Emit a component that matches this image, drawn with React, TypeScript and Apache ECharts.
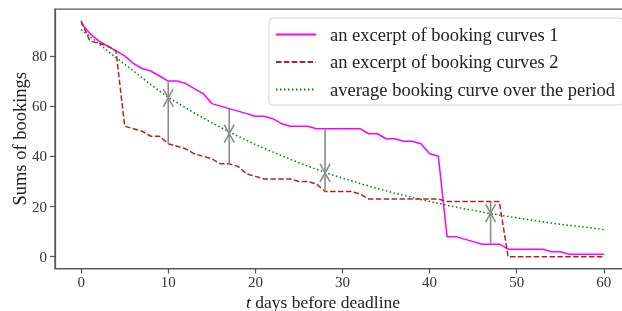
import React, { useEffect, useRef } from "react";
import * as echarts from "echarts";

// booking curve 1 (t = 0..60)
const curve1 = [
  93, 89, 86, 84, 82, 80, 77, 75, 74, 72,
  70, 70, 69, 67, 65, 61, 60, 59, 58, 57,
  56, 56, 55, 53, 52, 52, 52, 51, 51, 51,
  51, 51, 51, 49, 49, 47, 47, 46, 46, 45,
  41, 40, 8, 8, 7, 6, 5, 5, 5, 3,
  3, 3, 3, 3, 2, 2, 1, 1, 1, 1,
  1,
];
// booking curve 2 (t = 0..60)
const curve2 = [
  94, 86, 85, 84, 82, 52, 51, 50, 48, 48,
  45, 44, 43, 41, 40, 39, 37, 37, 36, 33,
  32, 31, 31, 31, 31, 30, 30, 29, 26, 26,
  26, 26, 25, 23, 23, 23, 23, 23, 23, 23,
  23, 23, 22, 22, 22, 22, 22, 22, 22, 0,
  0, 0, 0, 0, 0, 0, 0, 0, 0, 0,
  0,
];
const avgDays = [0, 2, 4, 6, 8, 10, 12, 14, 16, 18, 20, 22, 24, 26, 28, 30, 32, 34, 36, 38, 40, 42, 44, 46, 48, 50, 52, 54, 56, 58, 60];
const avgValues = [90.5, 85, 79.3, 74, 68.6, 63.5, 59.3, 55.3, 51.5, 48, 44.7, 41.7, 38.8, 36.1, 33.6, 31.3, 29.2, 27.2, 25.3, 23.6, 22, 20.5, 19.1, 17.8, 16.6, 15.5, 14.4, 13.4, 12.5, 11.7, 10.8];

const arrowDays = [10, 10, 17, 17, 28, 28, 47, 47];
const arrowFrom = [70, 45, 59, 37, 51, 26, 22, 5];
const arrowTo = [63.3, 63.3, 49, 49, 33.4, 33.4, 17.4, 17.4];

const xTicks = [0, 10, 20, 30, 40, 50, 60];
const yTicks = [0, 20, 40, 60, 80];
const seriesNames = [
  "an excerpt of booking curves 1",
  "an excerpt of booking curves 2",
  "average booking curve over the period",
];

export default function App() {
  const ref = useRef<HTMLDivElement>(null);
  useEffect(() => {
    document.body.style.margin = "0";
    const chart = echarts.init(ref.current!, null, { renderer: "svg" });
    const font = "'Liberation Serif', 'Times New Roman', serif";
    const spine = "#555";
    const arrowColor = "#8c8c8c";
    chart.setOption({
      animation: false,
      textStyle: { fontFamily: font },
      grid: {
        left: 55,
        top: 9,
        width: 575,
        height: 259.5,
        show: true,
        borderColor: spine,
        borderWidth: 1.25,
        backgroundColor: "transparent",
        containLabel: false,
        outerBoundsMode: "none",
      },
      xAxis: {
        type: "value",
        min: -3,
        max: 63,
        axisLine: { show: true, onZero: false, lineStyle: { color: spine, width: 1.25 } },
        axisTick: { show: true, customValues: xTicks, length: 5, lineStyle: { color: spine, width: 1.25 } },
        axisLabel: { customValues: xTicks, margin: 6, fontSize: 15, color: "#333", fontFamily: font },
        splitLine: { show: false },
        name: "{i|t} days before deadline",
        nameLocation: "middle",
        nameGap: 25,
        nameMoveOverlap: false,
        nameTextStyle: {
          fontSize: 17.5,
          lineHeight: 17,
          color: "#222",
          fontFamily: font,
          padding: [0, 39, 0, 0],
          rich: { i: { fontStyle: "italic", fontSize: 17.5, lineHeight: 17, fontFamily: font, color: "#222" } },
        },
      },
      yAxis: {
        type: "value",
        min: -4.7,
        max: 98.7,
        axisLine: { show: true, onZero: false, lineStyle: { color: spine, width: 1.25 } },
        axisTick: { show: true, customValues: yTicks, length: 5, lineStyle: { color: spine, width: 1.25 } },
        axisLabel: { customValues: yTicks, margin: 8, fontSize: 15, color: "#333", fontFamily: font },
        splitLine: { show: false },
        name: "Sums of bookings",
        nameLocation: "middle",
        nameGap: 26,
        nameMoveOverlap: false,
        nameTextStyle: { fontSize: 18.5, color: "#222", fontFamily: font },
      },
      legend: {
        data: seriesNames,
        orient: "vertical",
        left: 269,
        top: 18,
        padding: [7, 8, 6, 6],
        itemWidth: 40,
        itemHeight: 14,
        itemGap: 8.5,
        borderColor: "#d3d3d3",
        borderWidth: 1,
        borderRadius: 4,
        backgroundColor: "rgba(255,255,255,0.85)",
        selectedMode: false,
        itemStyle: { opacity: 0 },
        textStyle: { fontSize: 18.5, color: "#222", fontFamily: font, padding: [0, 0, 0, 9], lineHeight: 18 },
      },
      series: [
        {
          name: seriesNames[0],
          type: "line",
          data: curve1.map((v, i) => [i, v]),
          showSymbol: false,
          symbol: "none",
          itemStyle: { color: "#ff00ff" },
          lineStyle: { color: "#ff00ff", width: 1.5 },
          z: 2,
        },
        {
          name: seriesNames[1],
          type: "line",
          data: curve2.map((v, i) => [i, v]),
          showSymbol: false,
          symbol: "none",
          itemStyle: { color: "#b22222" },
          lineStyle: { color: "#b22222", width: 1.5, type: [5.5, 2.4] },
          z: 2,
        },
        {
          name: seriesNames[2],
          type: "line",
          data: avgDays.map((d, i) => [d, avgValues[i]]),
          showSymbol: false,
          symbol: "none",
          itemStyle: { color: "#008000" },
          lineStyle: { color: "#008000", width: 1.5, type: [1.5, 2.5] },
          z: 2,
        },
        {
          name: "arrows",
          type: "custom",
          data: arrowDays.map((d, i) => [d, arrowFrom[i], arrowTo[i]]),
          encode: { x: 0, y: [1, 2] },
          z: 3,
          renderItem: (params: any, api: any) => {
            const t = api.value(0);
            const a = api.value(1);
            const b = api.value(2);
            const p0 = api.coord([t, a]);
            const p1 = api.coord([t, b]);
            const dir = p1[1] > p0[1] ? 1 : -1;
            const hl = 9;
            const hw = 5;
            return {
              type: "group",
              children: [
                {
                  type: "line",
                  shape: { x1: p0[0], y1: p0[1], x2: p1[0], y2: p1[1] },
                  style: { stroke: arrowColor, lineWidth: 1.6 },
                },
                {
                  type: "polyline",
                  shape: {
                    points: [
                      [p1[0] - hw, p1[1] - dir * hl],
                      [p1[0], p1[1]],
                      [p1[0] + hw, p1[1] - dir * hl],
                    ],
                  },
                  style: { stroke: arrowColor, lineWidth: 1.6, fill: "none" },
                },
              ],
            };
          },
        },
      ],
    });
    return () => chart.dispose();
  }, []);
  return <div ref={ref} style={{ position: "fixed", left: 0, top: 0, width: 622, height: 311 }} />;
}
